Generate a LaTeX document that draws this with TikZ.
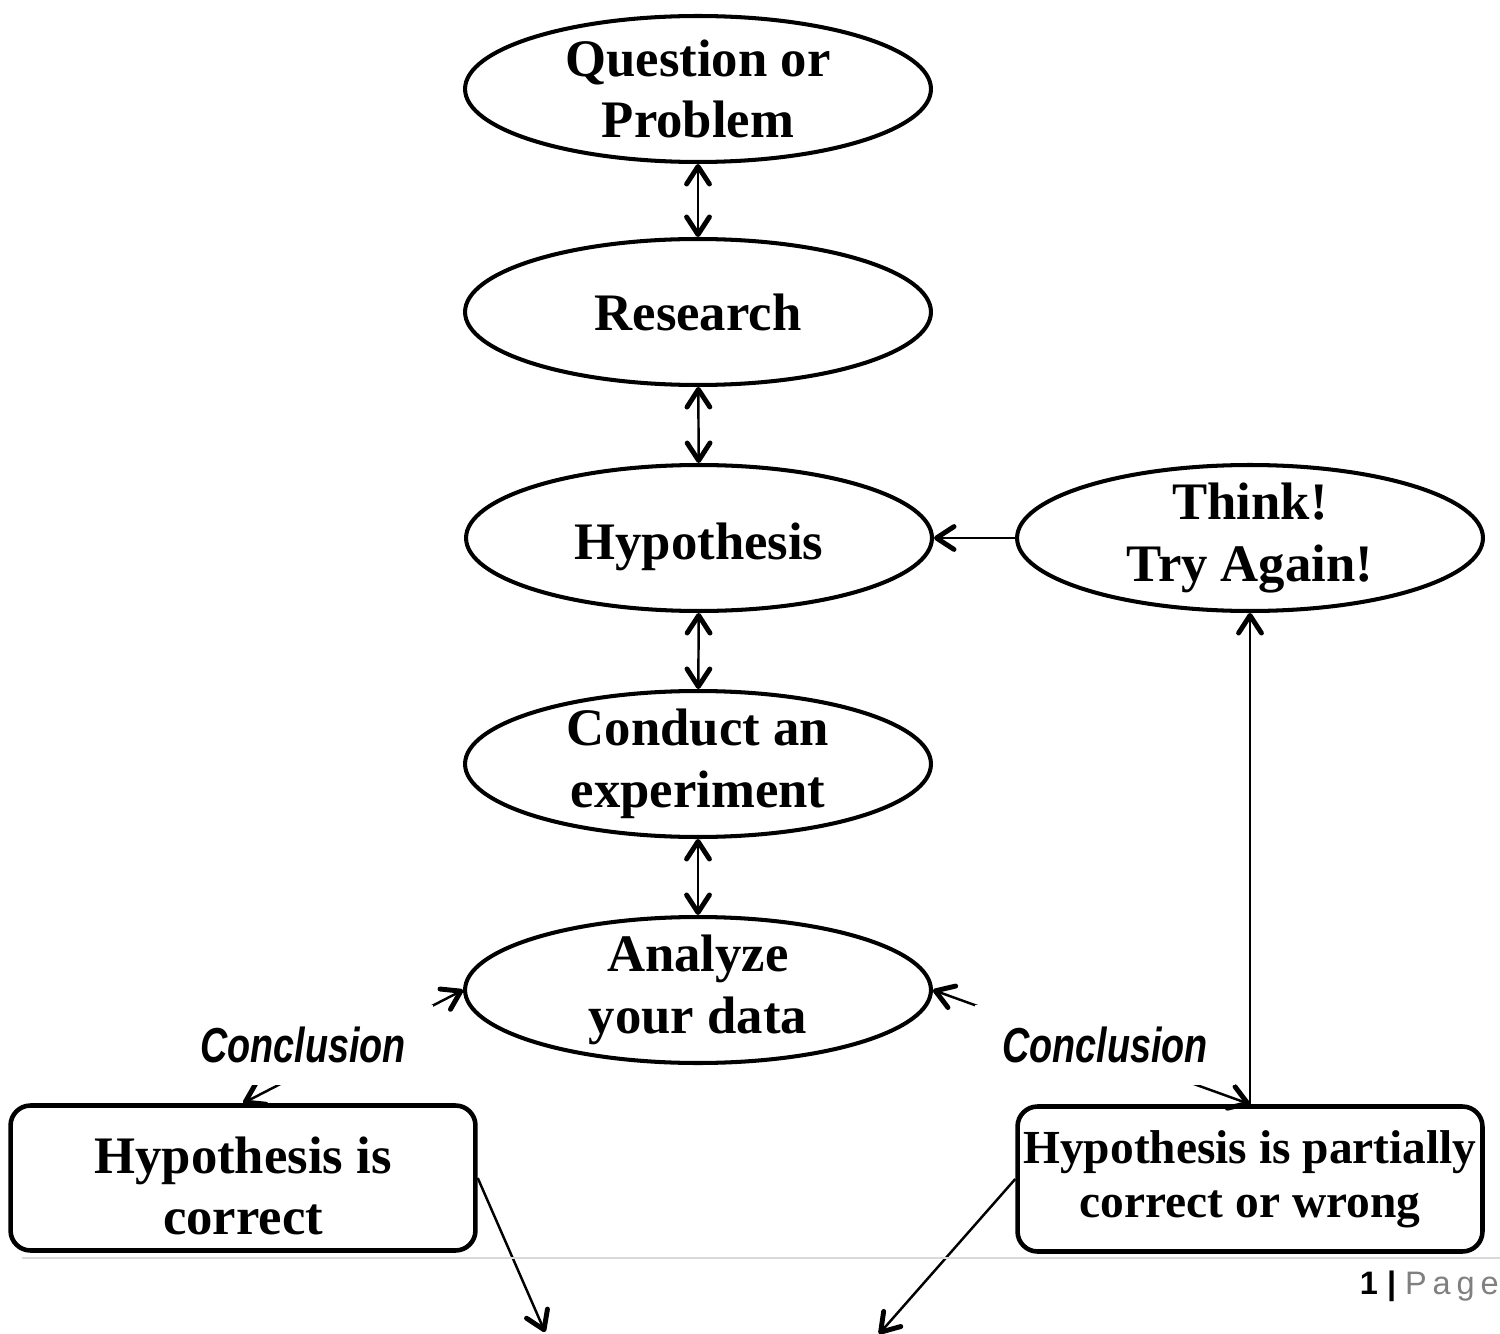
\documentclass[tikz,border=0pt]{standalone}
\usepackage{fontspec}
\setmainfont{Liberation Serif}
\newfontfamily\notefont{Liberation Sans}
\usetikzlibrary{shapes.geometric,arrows.meta}

\tikzset{
  barb/.tip={Straight Barb[length=10pt,width=13pt,line width=2.8pt,round]},
  stage/.style={ellipse, draw, line width=2.3pt, minimum width=9.32cm,
    minimum height=2.92cm, inner sep=0pt,
    label={[align=center,font=\fontsize{30}{35}\selectfont\bfseries]center:#1}},
  result/.style={draw, rounded corners=0.4cm, line width=2.6pt,
    minimum width=9.3cm, minimum height=2.9cm, align=center,
    font=\fontsize{30}{35}\selectfont\bfseries},
  link/.style={line width=1.4pt, barb-barb},
  flow/.style={line width=1.4pt, -barb},
  note/.style={fill=white, minimum width=5.2cm, minimum height=1.6cm,
    font=\notefont\bfseries\itshape\fontsize{21.5}{24}\selectfont}
}

\begin{document}
\begin{tikzpicture}[x=0.02cm,y=-0.02cm]
    \useasboundingbox (0,0) rectangle (1500,1334);

    \node[stage={Question or\\Problem}] (Q) at (698,89) {};
    \node[stage={Research}] (R) at (698,312) {};
    \node[stage={\rule{0pt}{1.05em}Hypothesis}] (H) at (699,538) {};
    \node[stage={Conduct an\\experiment}] (C) at (698,764) {};
    \node[stage={Analyze\\your data}] (A) at (698,990) {};
    \node[stage={Think!\\Try Again!}] (T) at (1250,538) {};
    \node[result] (L) at (243,1178) {\rule{0pt}{1em}Hypothesis is\\correct};
    \node[result, inner xsep=2pt, font=\fontsize{27}{31}\selectfont\bfseries] (N) at (1250,1179) {Hypothesis is partially\\correct or wrong};
    \coordinate (dl) at (545,1332);
    \coordinate (dr) at (879,1334);

    \draw[link] (Q) -- (R);
    \draw[link] (R) -- (H);
    \draw[link] (H) -- (C);
    \draw[link] (C) -- (A);
    \draw[flow] (T) -- (H);
    \draw[flow] (N) -- (T);
    \draw[link] (A.west) -- (L.north);
    \draw[link] (A.east) -- (N.north);
    \draw[flow] (L.east) -- (dl);
    \draw[flow] (N.west) -- (dr);

    \node[note] (c1) at (303,1045) {\scalebox{1}[1.3]{Conclusion}};
    \node[note] (c2) at (1105,1045) {\scalebox{1}[1.3]{Conclusion}};

    % page footer
    \draw[black!15, line width=1.2pt] (22,1258) -- (1500,1258);
    \node[anchor=east, inner sep=0pt, font=\notefont\fontsize{18.5}{21}\selectfont] (pg) at (1499,1286)
      {\textbf{1 |} {\color{black!50}\addfontfeature{LetterSpace=18}Page}};
\end{tikzpicture}
\end{document}
